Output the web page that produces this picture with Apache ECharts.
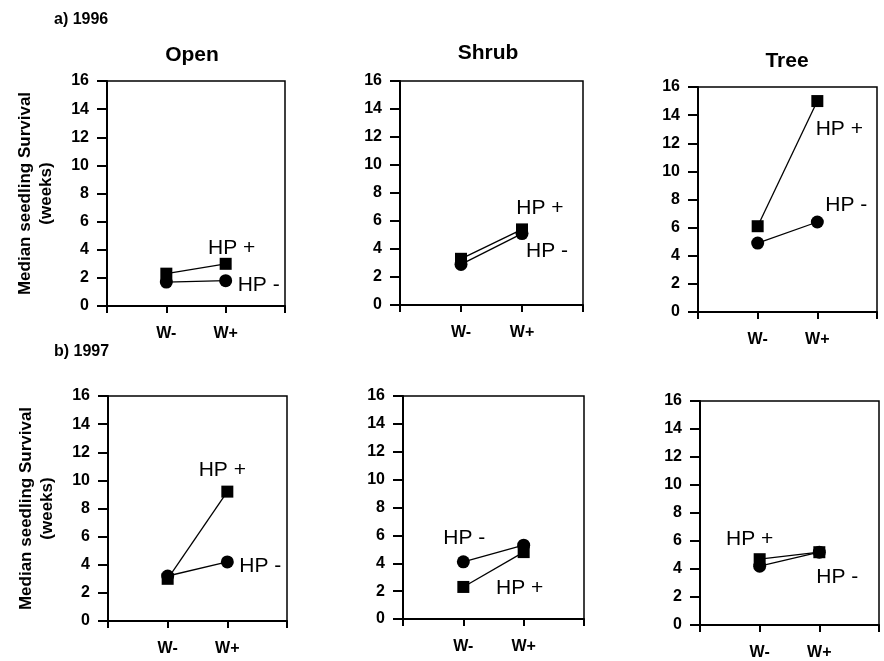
<!DOCTYPE html>
<html>
<head>
<meta charset="utf-8">
<script src="https://cdn.jsdelivr.net/npm/echarts@6/dist/echarts.min.js"></script>
<style>html,body{margin:0;padding:0;background:#fff;}#c{width:884px;height:661px;}</style>
</head>
<body>
<div id="c"></div>
<script>
// ---- data ----
const categories = ['', 'W-', 'W+', ''];
const yMin = 0, yMax = 16, yInterval = 2;
const columnTitles = ['Open', 'Shrub', 'Tree'];
const rowTitles = ['a) 1996', 'b) 1997'];
const yAxisTitle = 'Median seedling Survival\n(weeks)';
const seriesNames = ['HP +', 'HP -'];

const open1996HPplus  = [2.3, 3.0];
const open1996HPminus = [1.7, 1.8];
const shrub1996HPplus  = [3.3, 5.4];
const shrub1996HPminus = [2.9, 5.1];
const tree1996HPplus  = [6.1, 15.0];
const tree1996HPminus = [4.9, 6.4];
const open1997HPplus  = [3.0, 9.2];
const open1997HPminus = [3.2, 4.2];
const shrub1997HPplus  = [2.3, 4.8];
const shrub1997HPminus = [4.1, 5.3];
const tree1997HPplus  = [4.7, 5.2];
const tree1997HPminus = [4.2, 5.2];

// ---- layout ----
const FONT = "'Liberation Sans', Arial, sans-serif";
const panels = [
  {grid:{left:107,top:81,width:178,height:225}, plus:open1996HPplus, minus:open1996HPminus, yName:true,
   plusLab:{i:1, off:[6,-16]}, minusLab:{i:1, off:[33,5]}},
  {grid:{left:400,top:81,width:183,height:224}, plus:shrub1996HPplus, minus:shrub1996HPminus,
   plusLab:{i:1, off:[18,-21]}, minusLab:{i:1, off:[25,18]}},
  {grid:{left:698,top:87,width:179,height:225}, plus:tree1996HPplus, minus:tree1996HPminus,
   plusLab:{i:1, off:[22,28]}, minusLab:{i:1, off:[29,-17]}},
  {grid:{left:108,top:396,width:179,height:225}, plus:open1997HPplus, minus:open1997HPminus, yName:true,
   plusLab:{i:1, off:[-5,-21]}, minusLab:{i:1, off:[33,4]}},
  {grid:{left:403,top:396,width:181,height:223}, plus:shrub1997HPplus, minus:shrub1997HPminus,
   plusLab:{i:1, off:[-4,36]}, minusLab:{i:0, off:[1,-24]}},
  {grid:{left:700,top:401,width:179,height:224}, plus:tree1997HPplus, minus:tree1997HPminus,
   plusLab:{i:0, off:[-10,-20]}, minusLab:{i:1, off:[18,25]}}
];

function buildData(vals, lab, text) {
  const d = ['-', vals[0], vals[1], '-'];
  const k = lab.i + 1;
  d[k] = {value: vals[lab.i], label: {show: true, formatter: text, position: 'inside',
    offset: lab.off, color: '#000', fontSize: 21, fontFamily: FONT, fontWeight: 'normal'}};
  return d;
}

const grids = [], xAxes = [], yAxes = [], series = [];
panels.forEach((p, n) => {
  grids.push(Object.assign({show: true, borderColor: '#000', borderWidth: 1.5, backgroundColor: 'transparent'}, p.grid));
  xAxes.push({type: 'category', gridIndex: n, data: categories, boundaryGap: false,
    axisLine: {lineStyle: {color: '#000', width: 2}},
    axisTick: {show: true, length: 7, lineStyle: {color: '#000', width: 2}},
    axisLabel: {color: '#000', fontSize: 16, fontWeight: 'bold', fontFamily: FONT, margin: 20, interval: 0},
    splitLine: {show: false}});
  yAxes.push({type: 'value', gridIndex: n, min: yMin, max: yMax, interval: yInterval,
    axisLine: {show: true, lineStyle: {color: '#000', width: 2}},
    axisTick: {show: true, length: 10, lineStyle: {color: '#000', width: 2}},
    axisLabel: {color: '#000', fontSize: 16, fontWeight: 'bold', fontFamily: FONT, margin: 18},
    splitLine: {show: false},
    name: p.yName ? yAxisTitle : '', nameLocation: 'middle', nameGap: 50, nameRotate: 90,
    nameTextStyle: {color: '#000', fontSize: 17, fontWeight: 'bold', fontFamily: FONT, lineHeight: 21}});
  series.push({type: 'line', name: seriesNames[0], xAxisIndex: n, yAxisIndex: n,
    data: buildData(p.plus, p.plusLab, seriesNames[0]), symbol: 'rect', symbolSize: 12,
    itemStyle: {color: '#000'}, lineStyle: {color: '#000', width: 1.3}, connectNulls: false, animation: false});
  series.push({type: 'line', name: seriesNames[1], xAxisIndex: n, yAxisIndex: n,
    data: buildData(p.minus, p.minusLab, seriesNames[1]), symbol: 'circle', symbolSize: 13,
    itemStyle: {color: '#000'}, lineStyle: {color: '#000', width: 1.3}, connectNulls: false, animation: false});
});

const titlePos = [[192, 55], [488, 53], [787, 61]];
const graphics = columnTitles.map((t, i) => ({type: 'text', x: titlePos[i][0], y: titlePos[i][1],
  style: {text: t, textAlign: 'center', textVerticalAlign: 'middle', fill: '#000', font: 'bold 21px ' + FONT}}));
const rowPos = [[54, 20], [54, 352]];
rowTitles.forEach((t, i) => graphics.push({type: 'text', x: rowPos[i][0], y: rowPos[i][1],
  style: {text: t, textAlign: 'left', textVerticalAlign: 'middle', fill: '#000', font: 'bold 16px ' + FONT}}));

const chart = echarts.init(document.getElementById('c'));
chart.setOption({
  backgroundColor: '#fff',
  animation: false,
  grid: grids, xAxis: xAxes, yAxis: yAxes, series: series, graphic: graphics
});
</script>
</body>
</html>
